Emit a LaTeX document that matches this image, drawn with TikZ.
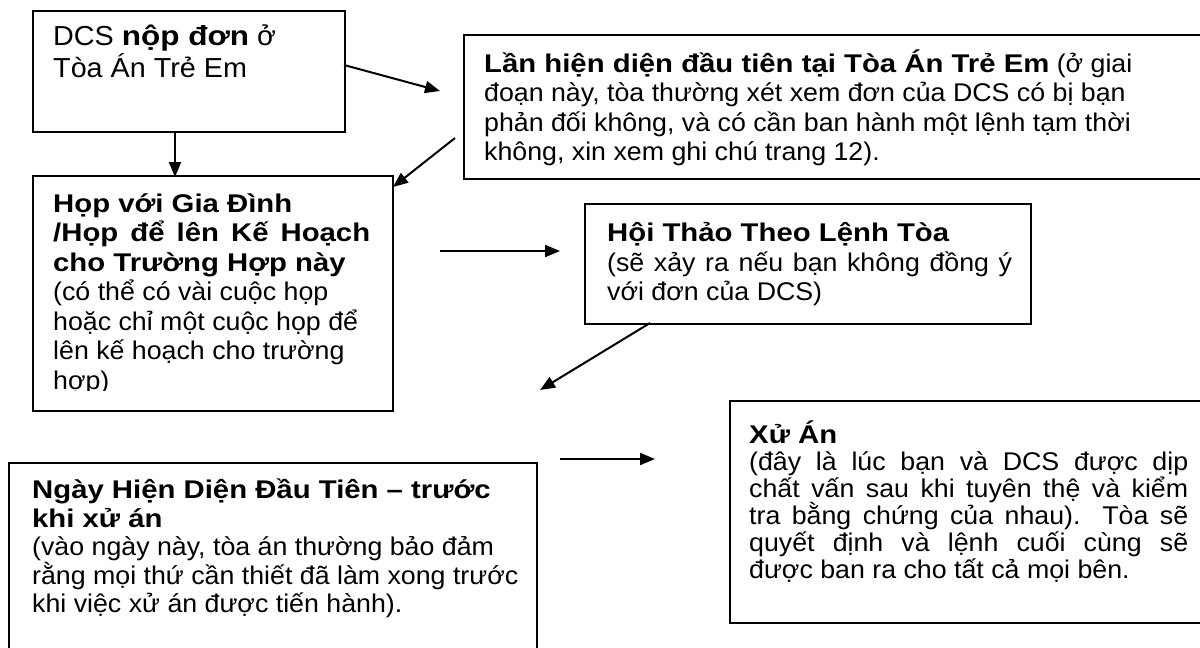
\documentclass[tikz,border=0pt]{standalone}
\usepackage{fontspec}
\setmainfont{Liberation Sans}[FakeStretch=1.045]
\newfontfamily\vnbfam{Liberation Sans}[FakeStretch=1.145]
\newcommand{\bxt}[1]{{\vnbfam\bfseries #1}}
\usetikzlibrary{arrows.meta}
\begin{document}
\begin{tikzpicture}[x=1pt,y=-1pt]
\tikzset{
  box/.style={draw, line width=2pt, rectangle, inner sep=0pt, anchor=north west},
  ln/.style={anchor=base west, inner sep=0pt, font=\fontsize{25.6}{29.4}\selectfont},
  lnbig/.style={anchor=base west, inner sep=0pt, font=\fontsize{27.5}{31}\selectfont},
  arr/.style={line width=2pt, -{Triangle[length=15pt,width=12pt]}}
}
\useasboundingbox (0,0) rectangle (1200,648);
\clip (0,0) rectangle (1200,648);
\fill[white] (0,0) rectangle (1200,648);

% boxes
\node[box, minimum width=312pt, minimum height=121pt] (b1) at (32,10) {};
\node[box, minimum width=752pt, minimum height=144pt] (b2) at (463,34) {};
\node[box, minimum width=360pt, minimum height=235pt] (b3) at (32,175) {};
\node[box, minimum width=446pt, minimum height=120pt] (b4) at (584,203) {};
\node[box, minimum width=528pt, minimum height=200pt] (b5) at (8,462) {};
\node[box, minimum width=486pt, minimum height=222pt] (b6) at (729,400) {};

% box 1
\node[lnbig] (t1a) at (53,45) {DCS \bxt{nộp đơn} ở};
\node[lnbig] (t1b) at (53,77) {Tòa Án Trẻ Em};

% box 2
\begin{scope}
\clip (463,34) rectangle (1200,165);
\node[ln] (t2a) at (484,72) {\bxt{Lần hiện diện đầu tiên tại Tòa Án Trẻ Em} (ở giai};
\node[ln] (t2b) at (484,101.5) {đoạn này, tòa thường xét xem đơn của DCS có bị bạn};
\node[ln] (t2c) at (484,131) {phản đối không, và có cần ban hành một lệnh tạm thời};
\node[ln] (t2d) at (484,160.5) {không, xin xem ghi chú trang 12).};
\end{scope}

% box 3
\begin{scope}
\clip (32,175) rectangle (392,390);
\node[ln] (t3a) at (53,212) {\bxt{Họp với Gia Đình}};
\node[ln] (t3b) at (53,241.5) {\bxt{\makebox[317pt][s]{/Họp để lên Kế Hoạch}}};
\node[ln] (t3c) at (53,271) {\bxt{cho Trường Hợp này}};
\node[ln] (t3d) at (53,300.5) {(có thể có vài cuộc họp};
\node[ln] (t3e) at (53,330) {hoặc chỉ một cuộc họp để};
\node[ln] (t3f) at (53,359.5) {lên kế hoạch cho trường};
\node[ln] (t3g) at (53,389) {hợp)};
\end{scope}

% box 4
\node[ln] (t4a) at (607,241) {\bxt{Hội Thảo Theo Lệnh Tòa}};
\node[ln] (t4b) at (607,271) {\makebox[405pt][s]{(sẽ xảy ra nếu bạn không đồng ý}};
\node[ln] (t4c) at (607,300) {với đơn của DCS)};

% box 5
\node[ln] (t5a) at (32,498) {\bxt{Ngày Hiện Diện Đầu Tiên – trước}};
\node[ln] (t5b) at (32,527) {\bxt{khi xử án}};
\node[ln] (t5c) at (32,555.5) {(vào ngày này, tòa án thường bảo đảm};
\node[ln] (t5d) at (32,584) {rằng mọi thứ cần thiết đã làm xong trước};
\node[ln] (t5e) at (32,612.5) {khi việc xử án được tiến hành).};

% box 6
\node[ln] (t6a) at (749,443) {\bxt{Xử Án}};
\node[ln] (t6b) at (749,470) {\makebox[439pt][s]{(đây là lúc bạn và DCS được dịp}};
\node[ln] (t6c) at (749,497) {\makebox[439pt][s]{chất vấn sau khi tuyên thệ và kiểm}};
\node[ln] (t6d) at (749,524) {\makebox[439pt][s]{tra bằng chứng của nhau). Tòa sẽ}};
\node[ln] (t6e) at (749,551) {\makebox[439pt][s]{quyết định và lệnh cuối cùng sẽ}};
\node[ln] (t6f) at (749,578) {được ban ra cho tất cả mọi bên.};

% arrows
\coordinate (a1s) at (344,65);  \coordinate (a1e) at (440,91);
\coordinate (a2s) at (175,131); \coordinate (a2e) at (175,177);
\coordinate (a3s) at (455,138); \coordinate (a3e) at (393,187);
\coordinate (a4s) at (440,251); \coordinate (a4e) at (560,251);
\coordinate (a5s) at (650,323); \coordinate (a5e) at (540,390);
\coordinate (a6s) at (560,459); \coordinate (a6e) at (655,459);
\draw[arr] (a1s) -- (a1e);
\draw[arr] (a2s) -- (a2e);
\draw[arr] (a3s) -- (a3e);
\draw[arr] (a4s) -- (a4e);
\draw[arr] (a5s) -- (a5e);
\draw[arr] (a6s) -- (a6e);
\end{tikzpicture}
\end{document}
